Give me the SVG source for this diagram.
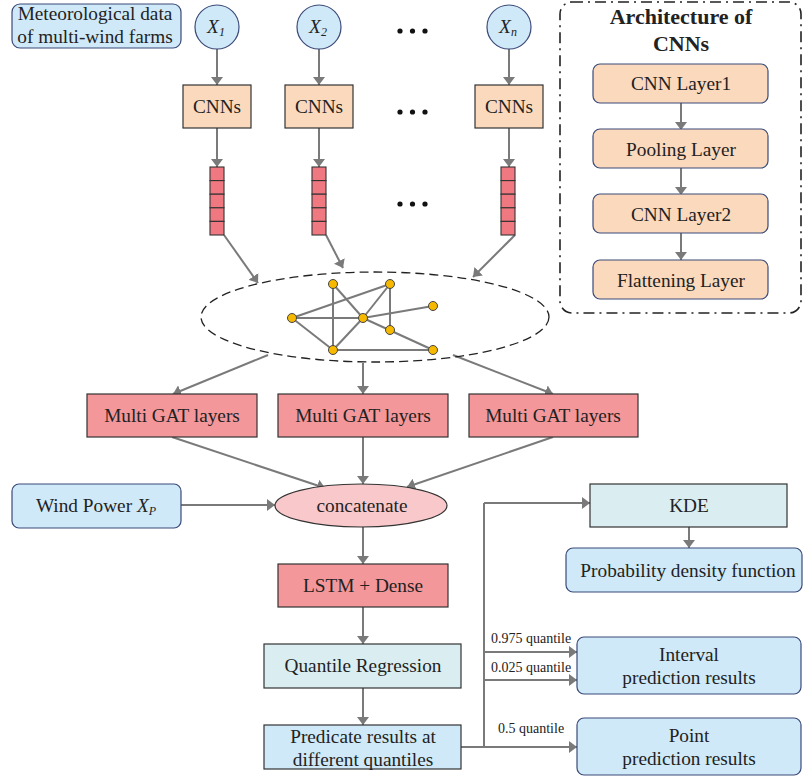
<svg xmlns="http://www.w3.org/2000/svg" width="803" height="778" viewBox="0 0 803 778">
<defs>
<marker id="ah" viewBox="0 0 8 12" refX="8" refY="6" markerWidth="8" markerHeight="12" markerUnits="userSpaceOnUse" orient="auto"><path d="M0,0 L8,6 L0,12 z" fill="#7a7a7a"/></marker>
</defs>
<style>
text{fill:#222;}
.t{font-size:19.3px;text-anchor:middle;}
.s{font-size:14px;}
.c{stroke:#7a7a7a;stroke-width:2;fill:none;}
.ca{stroke:#7a7a7a;stroke-width:2;fill:none;marker-end:url(#ah);}
.blue{fill:#cfe9f9;stroke:#3b4a78;stroke-width:1.2;}
.peach{fill:#fbd9bd;stroke:#333;stroke-width:1.2;}
.peachr{fill:#fbd9bd;stroke:#3b4a78;stroke-width:1.2;}
.red{fill:#f4979a;stroke:#333;stroke-width:1.2;}
.bar{fill:#f07880;stroke:#333;stroke-width:1.1;}
.cyan{fill:#daeef2;stroke:#333;stroke-width:1.2;}
.pb{fill:#cfe9f9;stroke:#333;stroke-width:1.2;}
.node{fill:#f6b900;stroke:#444;stroke-width:1;}
.ge{stroke:#7a7a7a;stroke-width:2;}
</style>
<rect width="803" height="778" fill="#fff"/>

<g id="connectors">
<line class="ca" x1="217" y1="49" x2="217" y2="85"/>
<line class="ca" x1="319" y1="49" x2="319" y2="85"/>
<line class="ca" x1="509" y1="49" x2="509" y2="85"/>
<line class="ca" x1="217" y1="128" x2="217" y2="167"/>
<line class="ca" x1="319" y1="128" x2="319" y2="167"/>
<line class="ca" x1="509" y1="128" x2="509" y2="167"/>
<line class="ca" x1="224" y1="235" x2="258" y2="283"/>
<line class="ca" x1="326" y1="235" x2="343" y2="268"/>
<line class="ca" x1="515" y1="235" x2="473" y2="277"/>
<line class="ca" x1="268" y1="355" x2="173" y2="394"/>
<line class="ca" x1="363" y1="363" x2="363" y2="394"/>
<line class="ca" x1="453" y1="355" x2="553" y2="394"/>
<line class="ca" x1="172" y1="437" x2="325" y2="488"/>
<line class="ca" x1="363" y1="437" x2="363" y2="484"/>
<line class="ca" x1="553" y1="437" x2="407" y2="487"/>
<line class="ca" x1="181" y1="505" x2="275" y2="505"/>
<line class="ca" x1="363" y1="527" x2="363" y2="564"/>
<line class="ca" x1="363" y1="607" x2="363" y2="644"/>
<line class="ca" x1="363" y1="688" x2="363" y2="725"/>
<polyline class="c" points="461,747 484,747 484,503"/>
<polyline class="ca" points="484,503 590,503"/>
<line class="ca" x1="689" y1="527" x2="689" y2="548"/>
<line class="ca" x1="484" y1="652" x2="577" y2="652"/>
<line class="ca" x1="484" y1="680" x2="577" y2="680"/>
<line class="ca" x1="484" y1="747" x2="577" y2="747"/>
<line class="ca" x1="681" y1="103" x2="681" y2="130"/>
<line class="ca" x1="681" y1="168" x2="681" y2="195"/>
<line class="ca" x1="681" y1="233" x2="681" y2="260"/>
</g>

<g id="meteo"><rect class="blue" x="12" y="4" width="169" height="44" rx="8"/>
<text class="t" font-family="Liberation Serif" x="95" y="20">Meteorological data</text><text class="t" font-family="Liberation Serif" x="95" y="43">of multi-wind farms</text></g>

<g id="x1"><circle class="blue" cx="217" cy="27" r="22"/><text x="216" y="33" class="t" font-family="Liberation Serif" font-style="italic">X<tspan font-size="12" dy="3">1</tspan></text></g>
<g id="x2"><circle class="blue" cx="319" cy="27" r="22"/><text x="318" y="33" class="t" font-family="Liberation Serif" font-style="italic">X<tspan font-size="12" dy="3">2</tspan></text></g>
<g id="xn"><circle class="blue" cx="509" cy="27" r="22"/><text x="508" y="33" class="t" font-family="Liberation Serif" font-style="italic">X<tspan font-size="12" dy="3">n</tspan></text></g>

<g id="dots" fill="#111">
<circle cx="400" cy="31" r="2.6"/><circle cx="412.5" cy="31" r="2.6"/><circle cx="425" cy="31" r="2.6"/>
<circle cx="400" cy="112" r="2.6"/><circle cx="412.5" cy="112" r="2.6"/><circle cx="425" cy="112" r="2.6"/>
<circle cx="400" cy="204" r="2.6"/><circle cx="412.5" cy="204" r="2.6"/><circle cx="425" cy="204" r="2.6"/>
</g>

<g id="cnn1"><rect class="peach" x="183" y="85" width="68" height="43"/><text class="t" font-family="Liberation Serif" x="217" y="113">CNNs</text></g>
<g id="cnn2"><rect class="peach" x="285" y="85" width="68" height="43"/><text class="t" font-family="Liberation Serif" x="319" y="113">CNNs</text></g>
<g id="cnnn"><rect class="peach" x="475" y="85" width="68" height="43"/><text class="t" font-family="Liberation Serif" x="509" y="113">CNNs</text></g>

<g id="bar1"><rect class="bar" x="210" y="167" width="14" height="13.6"/><rect class="bar" x="210" y="180.6" width="14" height="13.6"/><rect class="bar" x="210" y="194.2" width="14" height="13.6"/><rect class="bar" x="210" y="207.8" width="14" height="13.6"/><rect class="bar" x="210" y="221.4" width="14" height="13.6"/></g>
<g id="bar2"><rect class="bar" x="312" y="167" width="14" height="13.6"/><rect class="bar" x="312" y="180.6" width="14" height="13.6"/><rect class="bar" x="312" y="194.2" width="14" height="13.6"/><rect class="bar" x="312" y="207.8" width="14" height="13.6"/><rect class="bar" x="312" y="221.4" width="14" height="13.6"/></g>
<g id="barn"><rect class="bar" x="501" y="167" width="14" height="13.6"/><rect class="bar" x="501" y="180.6" width="14" height="13.6"/><rect class="bar" x="501" y="194.2" width="14" height="13.6"/><rect class="bar" x="501" y="207.8" width="14" height="13.6"/><rect class="bar" x="501" y="221.4" width="14" height="13.6"/></g>

<g id="graph">
<ellipse cx="375" cy="317" rx="174" ry="45" fill="none" stroke="#222" stroke-width="1.3" stroke-dasharray="9 5"/>
<line class="ge" x1="333" y1="284" x2="333" y2="350"/>
<line class="ge" x1="333" y1="284" x2="363" y2="318"/>
<line class="ge" x1="390" y1="284" x2="292" y2="318"/>
<line class="ge" x1="390" y1="284" x2="363" y2="318"/>
<line class="ge" x1="390" y1="284" x2="390" y2="330"/>
<line class="ge" x1="363" y1="318" x2="433" y2="306"/>
<line class="ge" x1="292" y1="318" x2="363" y2="318"/>
<line class="ge" x1="292" y1="318" x2="333" y2="350"/>
<line class="ge" x1="363" y1="318" x2="333" y2="350"/>
<line class="ge" x1="363" y1="318" x2="433" y2="350"/>
<line class="ge" x1="333" y1="350" x2="433" y2="350"/>
<circle class="node" cx="333" cy="284" r="4.5"/>
<circle class="node" cx="390" cy="284" r="4.5"/>
<circle class="node" cx="433" cy="306" r="4.5"/>
<circle class="node" cx="292" cy="318" r="4.5"/>
<circle class="node" cx="363" cy="318" r="4.5"/>
<circle class="node" cx="390" cy="330" r="4.5"/>
<circle class="node" cx="333" cy="350" r="4.5"/>
<circle class="node" cx="433" cy="350" r="4.5"/>
</g>

<g id="gat1"><rect class="red" x="87" y="394" width="170" height="43"/><text class="t" font-family="Liberation Serif" x="172" y="422">Multi GAT layers</text></g>
<g id="gat2"><rect class="red" x="278" y="394" width="170" height="43"/><text class="t" font-family="Liberation Serif" x="363" y="422">Multi GAT layers</text></g>
<g id="gat3"><rect class="red" x="469" y="394" width="169" height="43"/><text class="t" font-family="Liberation Serif" x="553" y="422">Multi GAT layers</text></g>

<g id="windpower"><rect class="blue" x="12" y="484" width="169" height="44" rx="7"/><text class="t" font-family="Liberation Serif" x="96" y="512">Wind Power <tspan font-style="italic">X<tspan font-size="12" dy="3">P</tspan></tspan></text></g>
<g id="concat"><ellipse cx="361" cy="505.5" rx="86" ry="21.5" fill="#f8c8cb" stroke="#333" stroke-width="1.2"/><text class="t" font-family="Liberation Serif" x="362" y="512">concatenate</text></g>
<g id="lstm"><rect class="red" x="278" y="564" width="170" height="43"/><text class="t" font-family="Liberation Serif" x="363" y="592">LSTM + Dense</text></g>
<g id="qr"><rect class="cyan" x="264" y="644" width="197" height="44"/><text class="t" font-family="Liberation Serif" x="363" y="672">Quantile Regression</text></g>
<g id="pred"><rect class="pb" x="264" y="725" width="197" height="44"/><text class="t" font-family="Liberation Serif" x="363" y="743">Predicate results at</text><text class="t" font-family="Liberation Serif" x="363" y="766">different quantiles</text></g>

<g id="kde"><rect class="cyan" x="590" y="484" width="197" height="43"/><text class="t" font-family="Liberation Serif" x="689" y="512">KDE</text></g>
<g id="pdf"><rect class="blue" x="566" y="548" width="236" height="44" rx="7" stroke="#333"/><text class="t" font-family="Liberation Serif" x="688" y="577">Probability density function</text></g>
<g id="interval"><rect class="blue" x="577" y="637" width="224" height="57" rx="7"/><text class="t" font-family="Liberation Serif" x="689" y="661">Interval</text><text class="t" font-family="Liberation Serif" x="689" y="684">prediction results</text></g>
<g id="point"><rect class="blue" x="577" y="718" width="224" height="57" rx="7"/><text class="t" font-family="Liberation Serif" x="689" y="742">Point</text><text class="t" font-family="Liberation Serif" x="689" y="765">prediction results</text></g>

<g id="labels">
<text class="s" font-family="Liberation Serif" x="491" y="643">0.975 quantile</text>
<text class="s" font-family="Liberation Serif" x="491" y="672">0.025 quantile</text>
<text class="s" font-family="Liberation Serif" x="498" y="733">0.5 quantile</text>
</g>

<g id="architecture">
<rect x="560" y="2" width="241" height="311" rx="12" fill="none" stroke="#222" stroke-width="1.6" stroke-dasharray="11 5 2 5"/>
<text x="681" y="24" text-anchor="middle" font-family="Liberation Serif" font-size="22" font-weight="bold">Architecture of</text>
<text x="681" y="51" text-anchor="middle" font-family="Liberation Serif" font-size="22" font-weight="bold">CNNs</text>
</g>
<g id="layer1"><rect class="peachr" x="593" y="64" width="175" height="39" rx="7"/><text class="t" font-family="Liberation Serif" x="681" y="90">CNN Layer1</text></g>
<g id="pool"><rect class="peachr" x="593" y="129" width="175" height="39" rx="7"/><text class="t" font-family="Liberation Serif" x="681" y="156">Pooling Layer</text></g>
<g id="layer2"><rect class="peachr" x="593" y="194" width="175" height="39" rx="7"/><text class="t" font-family="Liberation Serif" x="681" y="221">CNN Layer2</text></g>
<g id="flat"><rect class="peachr" x="593" y="260" width="175" height="39" rx="7"/><text class="t" font-family="Liberation Serif" x="681" y="287">Flattening Layer</text></g>
</svg>
